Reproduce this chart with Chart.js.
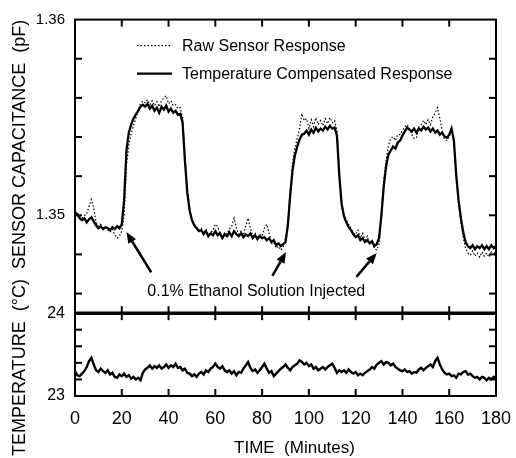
<!DOCTYPE html>
<html>
<head>
<meta charset="utf-8">
<script src="https://cdn.jsdelivr.net/npm/chart.js@4.4.1/dist/chart.umd.min.js"></script>
<style>
  html, body { margin: 0; padding: 0; background: #fff; }
  #wrap { position: relative; width: 516px; height: 458px; }
</style>
</head>
<body>
<div id="wrap"><canvas id="myChart" width="516" height="458"></canvas></div>
<script>
// sampling of the traces: one reading per minute, 0..180 min
const startMinute = 0;
const stepMinutes = 1;

const rawCap = [
  1.35025, 1.35010, 1.34995, 1.34985, 1.35000, 1.35005, 1.35046, 1.35081, 1.35041, 1.34964,
  1.34944, 1.34954, 1.34929, 1.34944, 1.34924, 1.34913, 1.34929, 1.34898, 1.34883, 1.34893,
  1.34919, 1.35000, 1.35255, 1.35356, 1.35417, 1.35458, 1.35494, 1.35534, 1.35570, 1.35585,
  1.35575, 1.35590, 1.35565, 1.35585, 1.35560, 1.35580, 1.35555, 1.35585, 1.35601, 1.35611,
  1.35570, 1.35585, 1.35560, 1.35565, 1.35545, 1.35550, 1.35494, 1.35305, 1.35127, 1.35031,
  1.34980, 1.34954, 1.34939, 1.34924, 1.34934, 1.34908, 1.34929, 1.34898, 1.34913, 1.34924,
  1.34954, 1.34944, 1.34903, 1.34888, 1.34913, 1.34903, 1.34929, 1.34944, 1.34985, 1.34934,
  1.34903, 1.34919, 1.34898, 1.34944, 1.34985, 1.34934, 1.34893, 1.34908, 1.34883, 1.34903,
  1.34893, 1.34934, 1.34954, 1.34908, 1.34857, 1.34863, 1.34832, 1.34842, 1.34822, 1.34837,
  1.34883, 1.34934, 1.35117, 1.35270, 1.35341, 1.35392, 1.35443, 1.35519, 1.35484, 1.35494,
  1.35443, 1.35489, 1.35453, 1.35499, 1.35463, 1.35484, 1.35458, 1.35494, 1.35468, 1.35499,
  1.35473, 1.35484, 1.35433, 1.35219, 1.35066, 1.35005, 1.34975, 1.34954, 1.34934, 1.34908,
  1.34903, 1.34924, 1.34883, 1.34908, 1.34873, 1.34893, 1.34852, 1.34863, 1.34832, 1.34822,
  1.34852, 1.35015, 1.35178, 1.35280, 1.35356, 1.35392, 1.35402, 1.35382, 1.35412, 1.35412,
  1.35433, 1.35453, 1.35463, 1.35443, 1.35412, 1.35392, 1.35397, 1.35453, 1.35463, 1.35484,
  1.35463, 1.35489, 1.35463, 1.35504, 1.35524, 1.35550, 1.35494, 1.35433, 1.35387, 1.35382,
  1.35402, 1.35443, 1.35372, 1.35199, 1.35061, 1.34964, 1.34883, 1.34832, 1.34807, 1.34796,
  1.34817, 1.34791, 1.34807, 1.34786, 1.34812, 1.34791, 1.34807, 1.34786, 1.34812, 1.34796,
  1.34822
];

const compCap = [
  1.35015, 1.35005, 1.34985, 1.34975, 1.34985, 1.34964, 1.34980, 1.34990, 1.34969, 1.34949,
  1.34934, 1.34944, 1.34929, 1.34939, 1.34934, 1.34924, 1.34939, 1.34929, 1.34944, 1.34934,
  1.34954, 1.35076, 1.35331, 1.35422, 1.35463, 1.35494, 1.35514, 1.35534, 1.35555, 1.35565,
  1.35555, 1.35570, 1.35545, 1.35560, 1.35534, 1.35550, 1.35524, 1.35555, 1.35540, 1.35560,
  1.35529, 1.35545, 1.35524, 1.35534, 1.35514, 1.35519, 1.35473, 1.35280, 1.35117, 1.35025,
  1.34975, 1.34949, 1.34934, 1.34919, 1.34924, 1.34903, 1.34919, 1.34893, 1.34908, 1.34898,
  1.34919, 1.34898, 1.34908, 1.34883, 1.34903, 1.34893, 1.34913, 1.34893, 1.34919, 1.34903,
  1.34893, 1.34908, 1.34888, 1.34903, 1.34893, 1.34908, 1.34883, 1.34898, 1.34878, 1.34893,
  1.34883, 1.34888, 1.34873, 1.34883, 1.34863, 1.34873, 1.34847, 1.34857, 1.34842, 1.34852,
  1.34863, 1.34949, 1.35102, 1.35229, 1.35305, 1.35351, 1.35387, 1.35412, 1.35417, 1.35433,
  1.35412, 1.35438, 1.35422, 1.35448, 1.35428, 1.35443, 1.35433, 1.35453, 1.35438, 1.35458,
  1.35443, 1.35448, 1.35407, 1.35204, 1.35056, 1.34995, 1.34964, 1.34939, 1.34924, 1.34903,
  1.34888, 1.34898, 1.34873, 1.34883, 1.34863, 1.34873, 1.34857, 1.34868, 1.34842, 1.34852,
  1.34883, 1.35000, 1.35148, 1.35249, 1.35310, 1.35331, 1.35351, 1.35341, 1.35372, 1.35382,
  1.35407, 1.35428, 1.35448, 1.35438, 1.35428, 1.35443, 1.35422, 1.35443, 1.35433, 1.35453,
  1.35438, 1.35448, 1.35428, 1.35443, 1.35422, 1.35433, 1.35412, 1.35422, 1.35402, 1.35397,
  1.35412, 1.35443, 1.35382, 1.35204, 1.35076, 1.34985, 1.34913, 1.34863, 1.34842, 1.34832,
  1.34847, 1.34827, 1.34842, 1.34832, 1.34847, 1.34827, 1.34842, 1.34827, 1.34847, 1.34832,
  1.34842
];

const temperature = [
  23.30, 23.25, 23.24, 23.27, 23.30, 23.35, 23.42, 23.46, 23.38, 23.31,
  23.29, 23.33, 23.30, 23.28, 23.31, 23.26, 23.28, 23.23, 23.22, 23.26,
  23.24, 23.27, 23.23, 23.25, 23.21, 23.23, 23.20, 23.22, 23.19, 23.28,
  23.32, 23.34, 23.37, 23.33, 23.36, 23.34, 23.37, 23.33, 23.35, 23.38,
  23.34, 23.37, 23.35, 23.39, 23.34, 23.35, 23.31, 23.33, 23.28, 23.27,
  23.24, 23.26, 23.23, 23.27, 23.29, 23.26, 23.31, 23.29, 23.33, 23.35,
  23.39, 23.35, 23.33, 23.36, 23.31, 23.29, 23.31, 23.27, 23.30, 23.25,
  23.29, 23.28, 23.33, 23.37, 23.41, 23.34, 23.30, 23.32, 23.28, 23.31,
  23.35, 23.39, 23.33, 23.28, 23.30, 23.24, 23.27, 23.30, 23.33, 23.35,
  23.38, 23.34, 23.31, 23.35, 23.37, 23.39, 23.43, 23.41, 23.38, 23.40,
  23.36, 23.38, 23.33, 23.35, 23.31, 23.33, 23.35, 23.32, 23.35, 23.37,
  23.39, 23.34, 23.28, 23.31, 23.29, 23.31, 23.28, 23.32, 23.29, 23.27,
  23.29, 23.25, 23.27, 23.25, 23.28, 23.30, 23.32, 23.35, 23.33, 23.38,
  23.40, 23.42, 23.38, 23.41, 23.40, 23.37, 23.39, 23.35, 23.33, 23.31,
  23.30, 23.32, 23.29, 23.30, 23.27, 23.29, 23.28, 23.32, 23.34, 23.31,
  23.34, 23.36, 23.38, 23.35, 23.42, 23.46, 23.38, 23.32, 23.28, 23.26,
  23.27, 23.24, 23.25, 23.22, 23.27, 23.26, 23.29, 23.30, 23.26, 23.27,
  23.24, 23.22, 23.23, 23.20, 23.23, 23.22, 23.19, 23.22, 23.20, 23.23,
  23.21
];

const timeTicks = [0, 20, 40, 60, 80, 100, 120, 140, 160, 180];
const capTicks = [1.346, 1.348, 1.35, 1.352, 1.354, 1.356, 1.358, 1.36];
const capLabels = [1.35, 1.36];
const tempTicks = [23, 23.2, 23.4, 23.6, 23.8, 24];
const tempLabels = [23, 24];

const seriesNames = ['Raw Sensor Response', 'Temperature Compensated Response'];
const injectionNote = '0.1% Ethanol Solution Injected';
// arrows: [tail minute, tail pF, head minute, head pF]
const injectionArrows = [
  [32.6, 1.34708, 22.0, 1.34914],
  [84.4, 1.34690, 90.2, 1.34812],
  [120.3, 1.34685, 129.0, 1.34807]
];
const notePosition = [77.5, 1.34612];

const FONT = "'Liberation Sans', Arial, Helvetica, sans-serif";

function toPoints(arr) {
  return arr.map((v, i) => ({ x: startMinute + i * stepMinutes, y: v }));
}
function near(list, v) {
  return list.some(w => Math.abs(w - v) < 1e-6);
}

const frame = {
  id: 'frame',
  afterDatasetsDraw(chart) {
    const { ctx, chartArea: a, scales } = chart;
    const xs = scales.x, yc = scales.y, yt = scales.yT;
    const mid = yt.getPixelForValue(24);
    const seg = (x1, y1, x2, y2) => { ctx.beginPath(); ctx.moveTo(x1, y1); ctx.lineTo(x2, y2); ctx.stroke(); };
    ctx.save();
    ctx.strokeStyle = '#000';
    ctx.lineWidth = 2;
    ctx.strokeRect(a.left, a.top, a.width, a.height);
    ctx.lineWidth = 3.5;
    seg(a.left, mid, a.right, mid);
    ctx.lineWidth = 2;
    const tl = 7;
    timeTicks.forEach(v => {
      if (v === timeTicks[0] || v === timeTicks[timeTicks.length - 1]) return;
      const px = xs.getPixelForValue(v);
      seg(px, a.top, px, a.top + tl);
      seg(px, mid - tl, px, mid + tl);
      seg(px, a.bottom - tl, px, a.bottom);
    });
    capTicks.forEach(v => {
      const py = yc.getPixelForValue(v);
      if (py <= a.top + 1) return;
      seg(a.left, py, a.left + tl, py);
      seg(a.right - tl, py, a.right, py);
    });
    tempTicks.forEach(v => {
      const py = yt.getPixelForValue(v);
      if (py <= mid + 1 || py >= a.bottom - 1) return;
      seg(a.left, py, a.left + tl, py);
      seg(a.right - tl, py, a.right, py);
    });

    // injection arrows and note
    ctx.fillStyle = '#000';
    ctx.lineWidth = 2.5;
    injectionArrows.forEach(([m0, c0, m1, c1]) => {
      const x0 = xs.getPixelForValue(m0), y0 = yc.getPixelForValue(c0);
      const x1 = xs.getPixelForValue(m1), y1 = yc.getPixelForValue(c1);
      const ang = Math.atan2(y1 - y0, x1 - x0);
      const hl = 11, hw = 4.5;
      const bx = x1 - hl * Math.cos(ang), by = y1 - hl * Math.sin(ang);
      seg(x0, y0, bx, by);
      ctx.beginPath();
      ctx.moveTo(x1, y1);
      ctx.lineTo(bx + hw * Math.sin(ang), by - hw * Math.cos(ang));
      ctx.lineTo(bx - hw * Math.sin(ang), by + hw * Math.cos(ang));
      ctx.closePath();
      ctx.fill();
    });
    ctx.font = '16px ' + FONT;
    ctx.textAlign = 'center';
    ctx.textBaseline = 'middle';
    ctx.fillText(injectionNote, xs.getPixelForValue(notePosition[0]), yc.getPixelForValue(notePosition[1]));

    // legend
    ctx.textAlign = 'left';
    chart.data.datasets.slice(0, 2).forEach((ds, i) => {
      const ly = a.top + 26 + i * 28;
      ctx.lineWidth = ds.borderWidth;
      ctx.setLineDash(ds.borderDash || []);
      seg(a.left + 62, ly, a.left + 97, ly);
      ctx.setLineDash([]);
      ctx.fillText(ds.label, a.left + 107, ly + 1);
    });

    // axis titles
    ctx.font = '18px ' + FONT;
    ctx.save();
    ctx.translate(20, (a.top + a.bottom) / 2 + 30);
    ctx.rotate(-Math.PI / 2);
    ctx.textAlign = 'center';
    ctx.fillText('TEMPERATURE  (°C)  SENSOR CAPACITANCE  (pF)', 0, 0);
    ctx.restore();
    ctx.font = '17px ' + FONT;
    ctx.textAlign = 'center';
    ctx.fillText('TIME  (Minutes)', (a.left + a.right) / 2 + 9, a.bottom + 52);
    ctx.restore();
  }
};

window.onload = function() {
  const ctx = document.getElementById('myChart').getContext('2d');
  Chart.defaults.font.family = FONT;
  Chart.defaults.color = '#000';
  new Chart(ctx, {
    type: 'line',
    data: {
      datasets: [
        {
          label: seriesNames[0],
          data: toPoints(rawCap),
          yAxisID: 'y',
          borderColor: '#000',
          borderWidth: 1.2,
          borderDash: [1.5, 2],
          pointRadius: 0,
          order: 2,
        },
        {
          label: seriesNames[1],
          data: toPoints(compCap),
          yAxisID: 'y',
          borderColor: '#000',
          borderWidth: 2.3,
          pointRadius: 0,
          order: 1,
        },
        {
          label: 'Temperature',
          data: toPoints(temperature),
          yAxisID: 'yT',
          borderColor: '#000',
          borderWidth: 2.4,
          pointRadius: 0,
          order: 0,
        },
      ],
    },
    options: {
      responsive: false,
      animation: false,
      devicePixelRatio: 1,
      layout: { padding: { top: 19, right: 20, bottom: 0, left: 0 } },
      plugins: { legend: { display: false }, tooltip: { enabled: false } },
      scales: {
        x: {
          type: 'linear',
          min: 0,
          max: 180,
          afterBuildTicks: s => { s.ticks = timeTicks.map(v => ({ value: v })); },
          afterFit: s => { s.height = 62; s.paddingLeft = 0; s.paddingRight = 0; },
          grid: { display: false, drawTicks: false },
          border: { display: false },
          ticks: { font: { size: 18 }, padding: 12, maxRotation: 0, autoSkip: false },
        },
        // the lower panel is listed first so the stack puts it at the bottom
        yT: {
          type: 'linear',
          position: 'left',
          stack: 'panels',
          stackWeight: 83,
          min: 23,
          max: 24,
          afterBuildTicks: s => { s.ticks = tempTicks.map(v => ({ value: v })); },
          afterFit: s => { s.width = 75; },
          grid: { display: false, drawTicks: false },
          border: { display: false },
          ticks: {
            font: { size: 16 },
            padding: 10,
            autoSkip: false,
            callback: v => near(tempLabels, v) ? String(Math.round(v)) : '',
          },
        },
        y: {
          type: 'linear',
          position: 'left',
          stack: 'panels',
          stackWeight: 294,
          min: 1.345,
          max: 1.36,
          afterBuildTicks: s => { s.ticks = capTicks.map(v => ({ value: v })); },
          afterFit: s => { s.width = 75; },
          grid: { display: false, drawTicks: false },
          border: { display: false },
          ticks: {
            font: { size: 15 },
            padding: 10,
            autoSkip: false,
            callback: v => near(capLabels, v) ? v.toFixed(2) : '',
          },
        },
      },
    },
    plugins: [frame],
  });
};
</script>
</body>
</html>
